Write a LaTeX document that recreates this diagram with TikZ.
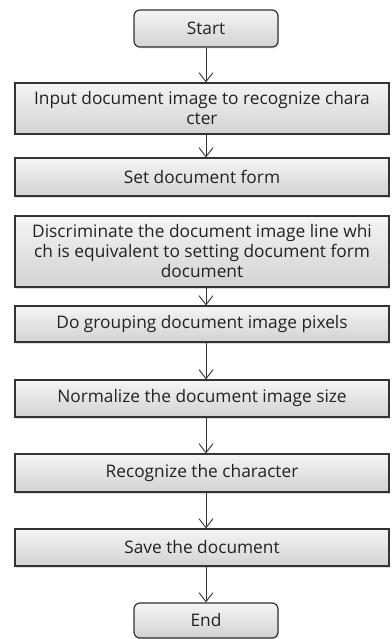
\documentclass[tikz,border=0pt]{standalone}
\usepackage{fontspec}
\setmainfont{Open Sans}
\usetikzlibrary{arrows.meta,shadows}
\definecolor{bordc}{HTML}{333333}
\definecolor{txtc}{HTML}{222222}
\tikzset{
  box/.style={rectangle, draw=bordc, line width=1.2pt, top color=gray!8, bottom color=gray!35,
    minimum width=374pt, align=center, inner sep=1pt, text=txtc,
    font=\fontsize{17.3}{20}\selectfont,
    drop shadow={shadow xshift=1.2pt, shadow yshift=-1.5pt, fill=gray!45, opacity=0.6}},
  term/.style={box, rounded corners=6pt, minimum width=144pt},
  arr/.style={draw=bordc, line width=0.9pt, -{Straight Barb[length=9pt,width=14pt,line width=0.9pt]}}
}
\begin{document}
\begin{tikzpicture}[x=1pt,y=-1pt]
\useasboundingbox (0,0) rectangle (391,639);
\node[term, minimum height=37pt] (start) at (206,28.5) {Start};
\node[box, minimum height=51pt] (input) at (202,108.5) {Input document image to recognize chara\\cter};
\node[box, minimum height=38pt] (set) at (202,177) {Set document form};
\node[box, minimum height=71pt] (disc) at (202,251.5) {Discriminate the document image line whi\\ch is equivalent to setting document form\\document};
\node[box, minimum height=36pt] (group) at (202,324) {Do grouping document image pixels};
\node[box, minimum height=37pt] (norm) at (202,398.5) {Normalize the document image size};
\node[box, minimum height=38pt] (recog) at (202,473) {Recognize the character};
\node[box, minimum height=37pt] (save) at (202,547.5) {Save the document};
\node[term, minimum height=35pt] (end) at (206,620.5) {End};
\draw[arr] (start.south) -- (start.south |- input.north);
\draw[arr] (input.south -| start) -- (set.north -| start);
\draw[arr] (disc.south -| start) -- (group.north -| start);
\draw[arr] (group.south -| start) -- (norm.north -| start);
\draw[arr] (norm.south -| start) -- (recog.north -| start);
\draw[arr] (recog.south -| start) -- (save.north -| start);
\draw[arr] (save.south -| start) -- (end.north);
\end{tikzpicture}
\end{document}
